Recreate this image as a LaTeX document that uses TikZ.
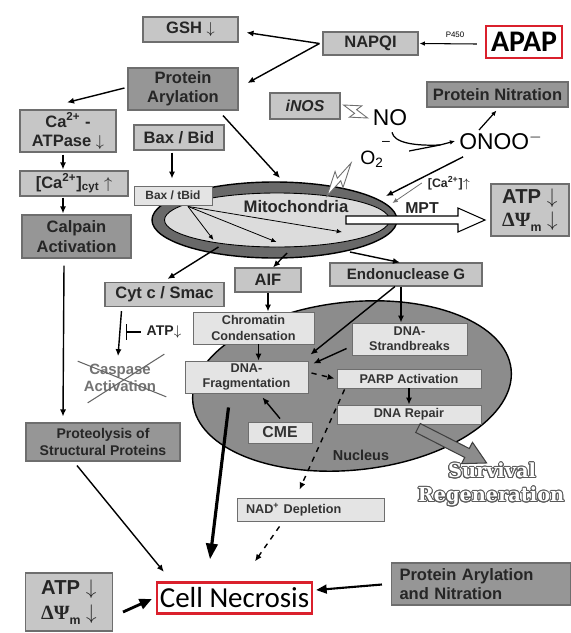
\documentclass[tikz,border=0pt]{standalone}
\usepackage{fontspec}
\setmainfont{Liberation Sans}
\newfontfamily\calfont{Carlito}
\newfontfamily\survfont{DejaVu Serif}
\newfontfamily\grkfont{Liberation Serif}
\usepackage[copies]{contour}
\usetikzlibrary{arrows.meta, calc}
\definecolor{BoxGray}{RGB}{198,198,198}
\definecolor{PaleGray}{RGB}{228,228,228}
\definecolor{DarkGray}{RGB}{150,150,150}
\definecolor{EdgeGray}{RGB}{110,110,110}
\definecolor{NucGray}{RGB}{140,140,140}
\definecolor{RingGray}{RGB}{105,105,105}
\definecolor{InnerGray}{RGB}{220,220,220}
\definecolor{NecroRed}{RGB}{218,32,44}

\newcommand{\pu}{0.02cm}
% lightning bolt from #1 to #2
\newcommand{\zap}[2]{%
  \draw[EdgeGray, fill=white, line width=0.5pt, line join=miter]
    (#1) -- ($(#1)!0.6!(#2)!4.5pt!90:(#2)$) -- ($(#1)!0.5!(#2)!1.2pt!90:(#2)$) -- (#2)
    -- ($(#1)!0.4!(#2)!4.5pt!-90:(#2)$) -- ($(#1)!0.5!(#2)!1.2pt!-90:(#2)$) -- cycle;%
}
% energy loss text
\newcommand{\atpdrop}{ATP $\downarrow$\\{\grkfont\bfseries ΔΨ}\raisebox{-0.45ex}{\fontsize{7}{7}\selectfont m} $\downarrow$}

\tikzset{
  sz/.style 2 args={minimum width=#1*\pu, minimum height=#2*\pu, inner sep=0pt},
  midbox/.style={draw=EdgeGray, fill=BoxGray, line width=0.6pt, align=center,
                 text=black!85, font=\fontsize{9.4}{11}\selectfont\bfseries},
  palebox/.style={draw=EdgeGray, fill=PaleGray, line width=0.5pt, align=center,
                  text=black!80, font=\fontsize{7.2}{8.6}\selectfont\bfseries},
  darkbox/.style={draw=EdgeGray, fill=DarkGray, line width=0.6pt, align=center,
                  text=black!85, font=\fontsize{9.4}{11}\selectfont\bfseries},
  redbox/.style={draw=NecroRed, fill=white, line width=1.3pt, inner sep=0pt},
  arr/.style={-{Latex[length=4pt,width=3.5pt]}, line width=0.8pt},
  thinarr/.style={-{Latex[length=3pt,width=2.6pt]}, line width=0.45pt},
  lbl/.style={text=black!85, font=\fontsize{9}{10}\selectfont\bfseries},
}

\begin{document}
\begin{tikzpicture}[x=\pu, y=-\pu]
\useasboundingbox (0,0) rectangle (571,633);

% top row
\node[midbox, sz={95}{25}] (gsh) at (190.5,29.5) {GSH $\downarrow$};
\node[midbox, sz={95}{23}] (napqi) at (370.5,43.5) {NAPQI};
\node[redbox, sz={76}{32}, font=\calfont\bfseries\fontsize{17}{18}\selectfont] (apap) at (524,42) {APAP};
\node[font=\fontsize{4.5}{5}\selectfont] (p450) at (455,35) {P450};
\draw[thinarr, line width=0.6pt] ($(apap.west)+(-8,2)$) -- ($(napqi.east)+(1,0)$);
\node[darkbox, sz={110}{42}] (parl) at (183,89) {Protein\\Arylation};
\draw[arr] ($(napqi.west)+(-3,0)$) -- ($(gsh.east)+(8,3)$);
\draw[arr] ($(napqi.west)+(-3,0)$) -- ($(parl.east)+(9,-6)$);

% calcium / calpain column
\node[midbox, sz={96}{42}] (catpase) at (68,131) {Ca\textsuperscript{2+} -\\ATPase $\downarrow$};
\node[midbox, sz={108}{25}] (cacyt) at (74,183.5) {[Ca\textsuperscript{2+}]\textsubscript{cyt} $\uparrow$};
\node[darkbox, sz={109}{43}] (calpain) at (76.5,236.5) {Calpain\\Activation};
\node[darkbox, sz={154}{38}, font=\fontsize{8}{9.5}\selectfont\bfseries] (proteo) at (103,442) {Proteolysis of\\Structural Proteins};
\draw[arr] ($(parl.west)+(-3,-1)$) -- ($(catpase.north)+(-1,-7)$);
\draw[arr] ($(catpase.south)+(-5,2)$) -- ($(cacyt.north)+(-11,-1)$);
\draw[arr] ($(cacyt.south)+(-11,1)$) -- ($(calpain.north)+(-13.5,-1)$);
\draw[arr] ($(calpain.south)+(-12.5,7)$) -- ($(proteo.north)+(-40,-6)$);

% Bax
\node[midbox, sz={90}{25}] (baxbid) at (179,137.5) {Bax / Bid};

% iNOS, NO, ONOO-
\node[midbox, sz={70}{26}, font=\fontsize{9}{10}\selectfont\bfseries\itshape] (inos) at (305,106) {iNOS};
\node[darkbox, sz={141}{25}] (pnit) at (497.5,94.5) {Protein Nitration};
\node[font=\fontsize{13}{14}\selectfont] (no) at (390,118) {NO};
\node[font=\fontsize{13}{14}\selectfont] (onoo) at (501,141) {ONOO$^{-}$};
\node[font=\fontsize{8}{9}\selectfont] (minus) at (386,143) {--};
\node[font=\fontsize{11}{12}\selectfont] (otwo) at (372,159) {O\textsubscript{2}};
\zap{$(inos.east)+(3,-1)$}{$(no.west)+(1,0)$}
\coordinate (merge) at (440,145);
\draw[line width=0.7pt] ($(no.south)+(2,0)$) .. controls (394,143) and (415,146) .. (merge);
\draw[line width=0.7pt] ($(minus.east)+(13,8)$) -- (merge);
\draw[thinarr, line width=0.7pt] (merge) -- ($(onoo.west)+(2,0)$);
\draw[thinarr, line width=0.7pt] ($(onoo)+(-22,-11)$) -- ($(pnit.south)+(-1,3)$);

% mitochondria
\coordinate (mito) at (274.5,220);
\draw[fill=RingGray, line width=0.8pt] (mito) ellipse [x radius=122.5, y radius=38];
\draw[fill=InnerGray, line width=0.5pt] ($(mito)+(2.5,0)$) ellipse [x radius=112.5, y radius=27];
\node[lbl, font=\fontsize{9.5}{10}\selectfont\bfseries] (mitolab) at (296,207) {Mitochondria};
\node[palebox, sz={78}{19}, font=\fontsize{6.8}{7}\selectfont\bfseries] (baxtbid) at (173,195.5) {Bax / tBid};
\draw[arr] ($(baxbid.south)+(-7,2)$) -- ($(baxtbid.north)+(-1,-7)$);
\draw[arr] ($(parl.south)+(40,5)$) -- ($(mito)+(5.5,-42)$);
\draw[thinarr] ($(baxtbid.south)+(15,1)$) -- ($(mito)+(-61,20)$);
\draw[thinarr] ($(baxtbid.south)+(15,1)$) -- ($(mito)+(2,22)$);
\draw[thinarr] ($(baxtbid.south)+(15,1)$) -- ($(mito)+(67.5,12)$);
\zap{$(mito)+(52.5,-24)$}{$(otwo.west)+(-3,4)$}
\draw[arr] ($(onoo.south west)+(10,1)$) -- ($(mito)+(111.5,-24)$);
\node[font=\fontsize{7}{8}\selectfont\bfseries, text=black!85] (cain) at (449,183) {[Ca\textsuperscript{2+}]$\uparrow$};
\draw[thinarr, EdgeGray] (cain.west) -- ($(mito)+(118,-17)$);
\node[lbl] (mpt) at (422,208) {MPT};

% permeability transition -> energy loss
\node[midbox, sz={78}{52}, align=left, font=\fontsize{11.5}{13}\selectfont\bfseries] (atpr) at (530,210) {\atpdrop};
\draw[fill=white, line width=0.6pt] (346,216) -- (458,216) -- (458,208) -- (485,220)
  -- (458,232) -- (458,224) -- (346,224) -- cycle;

% released factors
\node[midbox, sz={119}{24}] (cytc) at (164.5,294.5) {Cyt c / Smac};
\node[midbox, sz={66}{24}] (aif) at (268,280) {AIF};
\node[midbox, sz={152}{23}, font=\fontsize{8.6}{10}\selectfont\bfseries] (endog) at (406,274.5) {Endonuclease G};
\draw[arr] ($(mito)+(-56,27)$) -- ($(cytc.north)+(3,-3)$);
\draw[arr] ($(mito)+(12.5,33)$) -- ($(aif.north)+(5,0)$);
\draw[arr] ($(mito)+(75.5,32)$) -- ($(endog.north)+(-6,0)$);

% caspase branch
\node[lbl, font=\fontsize{8.5}{9.5}\selectfont\bfseries, text=black!55, align=center] (casp) at (120,378) {Caspase\\Activation};
\draw[arr] ($(cytc.south west)+(17,4)$) -- ($(casp.north)+(-2,-2)$);
\node[font=\fontsize{8}{9}\selectfont\bfseries, text=black!85] (atpinh) at (164,332) {ATP$\downarrow$};
\draw[-{Bar[width=9pt]}, line width=0.8pt] (atpinh.west) -- ++(-15,0);
\draw[black!60, line width=0.6pt] ($(casp.north west)+(0,3)$) -- ($(casp.south east)+(4,-1)$);
\draw[black!60, line width=0.6pt] ($(casp.south west)+(10,5)$) -- ($(casp.north east)+(2,-4)$);

% nucleus
\coordinate (nucl) at (352,386);
\draw[fill=NucGray, line width=0.8pt, rotate around={6:(nucl)}] (nucl) ellipse [x radius=160, y radius=84];
\node[lbl, font=\fontsize{8.2}{9}\selectfont\bfseries] (nuclab) at (361,455) {Nucleus};
\node[palebox, sz={121}{32}] (chrom) at (253.5,328) {Chromatin\\Condensation};
\node[palebox, sz={123}{32}] (dnafrag) at (246.5,377) {DNA-\\Fragmentation};
\node[palebox, sz={115}{32}] (dnastr) at (409.5,339) {DNA-\\Strandbreaks};
\node[palebox, sz={144}{19}] (parp) at (409,378.5) {PARP Activation};
\node[palebox, sz={144}{19}] (repair) at (409,414.5) {DNA Repair};
\node[palebox, sz={64}{21}, font=\fontsize{9}{10}\selectfont\bfseries] (cme) at (280,432.5) {CME};
\draw[arr] (aif.south) -- (aif.south |- chrom.north);
\draw[arr] ($(chrom.south)+(5,0)$) -- ($(dnafrag.north)+(12,0)$);
\draw[arr] ($(endog.south)+(-5,0)$) -- ($(dnastr.north)+(-8.5,0)$);
\draw[arr] ($(endog.south)+(-11,0)$) -- ($(dnafrag.north east)+(2,-6)$);
\draw[arr] ($(dnastr.west)+(-5,9.5)$) -- ($(dnafrag.east)+(5,-13.5)$);
\draw[arr, dashed] ($(dnafrag.east)+(3,-4)$) -- ($(parp.west)+(-2,0)$);
\draw[arr] (parp.south) -- (repair.north);
\draw[arr] ($(cme.north)+(0,-3)$) -- ($(dnafrag.south)+(16,4)$);

% survival
\begin{scope}[shift={(418,428)}, rotate=-27]
  \draw[fill=NucGray, draw=black!75, line width=0.6pt] (0,-5) -- (55,-5) -- (55,-12) -- (77,0)
    -- (55,12) -- (55,5) -- (0,5) -- cycle;
\end{scope}
\contourlength{0.55pt}
\node[font=\survfont\bfseries\fontsize{11}{12}\selectfont] (surv) at (492,471)
  {\contour{black!65}{\textcolor{white}{Survival}}};
\node[font=\survfont\bfseries\fontsize{11}{12}\selectfont] (regen) at (491,497)
  {\contour{black!65}{\textcolor{white}{Regeneration}}};

% necrosis
\node[palebox, sz={147}{23}, align=left, inner xsep=9*\pu, text width=129*\pu] (nad) at (310.5,509.5) {NAD\textsuperscript{+} Depletion};
\node[redbox, sz={155}{31}, font=\calfont\fontsize{16.5}{17}\selectfont] (necro) at (234.5,598) {Cell Necrosis};
\node[midbox, sz={87}{58}, align=left, font=\fontsize{11.5}{14}\selectfont\bfseries] (atpl) at (69,602) {\atpdrop};
\node[darkbox, sz={179}{42}, align=left, inner xsep=8*\pu, text width=163*\pu] (parnit) at (481,584)
  {Protein Arylation\\and Nitration};
\draw[arr, dashed] ($(parp.south west)+(8,1)$) -- ($(nad.north)+(-11,-8)$);
\draw[arr, dashed] ($(nad.south)+(-31,5)$) -- ($(necro.north)+(20.5,-20)$);
\draw[-{Triangle[length=9pt,width=6.5pt]}, line width=1.8pt] ($(dnafrag.south)+(-18,14)$) -- ($(necro.north)+(-24.5,-22)$);
\draw[arr] ($(proteo.south)+(-26,4)$) -- ($(necro.north west)+(8,-9.5)$);
\draw[-{Triangle[length=7pt,width=6pt]}, line width=1.6pt] ($(atpl.east)+(10,10)$) -- ($(necro.west)+(-4,1)$);
\draw[-{Triangle[length=6pt,width=5pt]}, line width=1.2pt] ($(parnit.west)+(-9,0.5)$) -- ($(necro.east)+(3,-8)$);

\end{tikzpicture}
\end{document}
